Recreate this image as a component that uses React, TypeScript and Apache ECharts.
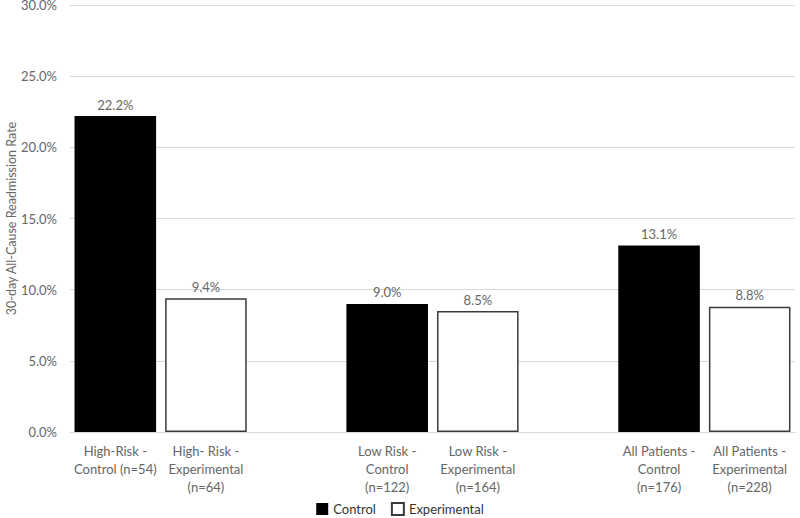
import React, { useEffect, useRef } from "react";
import * as echarts from "echarts";

const categories = [
  "High-Risk -\nControl (n=54)",
  "High- Risk -\nExperimental\n(n=64)",
  "",
  "Low Risk -\nControl\n(n=122)",
  "Low Risk -\nExperimental\n(n=164)",
  "",
  "All Patients -\nControl\n(n=176)",
  "All Patients -\nExperimental\n(n=228)",
];
const controlValues: (number | string)[] = [22.2, "-", "-", 9.0, "-", "-", 13.1, "-"];
const experimentalValues: (number | string)[] = ["-", 9.4, "-", "-", 8.5, "-", "-", 8.8];
const yTicks = { min: 0, max: 30, interval: 5 };

const FONT = "Lato, 'Open Sans', sans-serif";
const GRAY = "#666666";

export default function App() {
  const ref = useRef<HTMLDivElement>(null);
  useEffect(() => {
    if (!ref.current) return;
    const chart = echarts.init(ref.current, undefined, { renderer: "svg" });
    const labelCfg = {
      show: true,
      position: "top" as const,
      distance: 5,
      color: GRAY,
      fontFamily: FONT,
      fontSize: 13,
      formatter: (p: any) => Number(p.value).toFixed(1) + "%",
    };
    chart.setOption({
      animation: false,
      textStyle: { fontFamily: FONT },
      grid: { left: 70, right: 5, top: 5, bottom: 86, containLabel: false, outerBoundsMode: "none" },
      legend: {
        top: 497,
        left: "center",
        itemWidth: 12,
        itemHeight: 12,
        itemGap: 15,
        icon: "rect",
        textStyle: { color: "#333", fontFamily: FONT, fontSize: 13 },
        data: ["Control", "Experimental"],
      },
      xAxis: {
        type: "category",
        data: categories,
        axisLine: { show: true, lineStyle: { color: "#d9d9d9", width: 1 } },
        axisTick: { show: false },
        axisLabel: {
          interval: 0,
          color: GRAY,
          fontFamily: FONT,
          fontSize: 13,
          lineHeight: 18,
          margin: 10,
        },
      },
      yAxis: {
        type: "value",
        min: yTicks.min,
        max: yTicks.max,
        interval: yTicks.interval,
        name: "30-day All-Cause Readmission Rate",
        nameLocation: "middle",
        nameGap: 52,
        nameMoveOverlap: false,
        nameTextStyle: { color: GRAY, fontFamily: FONT, fontSize: 12.5 },
        axisLine: { show: false },
        axisTick: { show: false },
        splitLine: { lineStyle: { color: "#d9d9d9", width: 1 } },
        axisLabel: {
          color: GRAY,
          fontFamily: FONT,
          fontSize: 13,
          margin: 13,
          formatter: (v: number) => v.toFixed(1) + "%",
        },
      },
      series: [
        {
          name: "Control",
          type: "bar",
          data: controlValues,
          barWidth: "90%",
          barGap: "-100%",
          itemStyle: { color: "#000000" },
          label: labelCfg,
        },
        {
          name: "Experimental",
          type: "bar",
          data: experimentalValues,
          barWidth: "90%",
          barGap: "-100%",
          itemStyle: { color: "#ffffff", borderColor: "#3a3a3a", borderWidth: 1.5 },
          label: labelCfg,
        },
      ],
    });
    return () => chart.dispose();
  }, []);
  return <div ref={ref} style={{ width: 800, height: 518, position: "absolute", left: 0, top: 0 }} />;
}
